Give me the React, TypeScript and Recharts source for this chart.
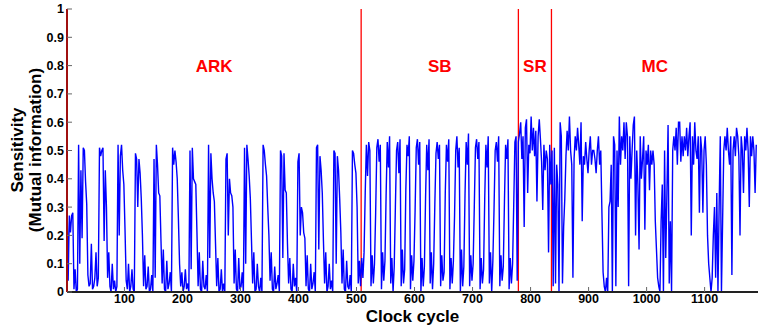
import React from 'react';
import { LineChart, Line, XAxis, YAxis, ReferenceLine, ReferenceDot } from 'recharts';

const FONT = '"Liberation Sans", Arial, Helvetica, sans-serif';

const phaseNames = ['ARK', 'SB', 'SR', 'MC'];
const phaseEdges = [1, 508, 779, 836, 1192];
const xTicks = [100, 200, 300, 400, 500, 600, 700, 800, 900, 1000, 1100];
const yTicks = [0, 0.1, 0.2, 0.3, 0.4, 0.5, 0.6, 0.7, 0.8, 0.9, 1];

// sensitivity (mutual information) x100, one sample every 2 clock cycles from cycle 1
const cycleStep = 2;

const arkValues = [
  33, 4, 27, 21, 27, 28, 1, 8, 0, 1,
  52, 10, 43, 19, 51, 50, 39, 31, 6, 2, 3, 17, 1, 2, 5, 14, 2, 5,
  51, 48, 50, 51, 18, 43, 30, 5, 14, 2, 0, 10, 1, 4, 0, 2,
  52, 20, 48, 52, 43, 38, 22, 4, 1, 10, 0, 2, 8, 1, 0,
  49, 47, 30, 47, 42, 33, 20, 2, 13, 1, 2, 9, 0, 1, 6, 0,
  47, 5, 52, 45, 35, 34, 18, 3, 15, 1, 0, 11, 1, 3, 7, 0,
  51, 45, 50, 46, 40, 26, 10, 2, 7, 0, 2, 8, 1, 3, 0,
  50, 8, 51, 40, 39, 38, 21, 2, 14, 1, 0, 11, 2, 1, 6, 0,
  52, 12, 49, 40, 35, 32, 17, 2, 12, 0, 1, 8, 0, 3, 0,
  47, 49, 20, 40, 35, 34, 30, 3, 15, 1, 0, 12, 1, 2, 7, 0,
  51, 10, 52, 47, 41, 33, 18, 3, 14, 0, 1, 10, 2, 0, 5, 0,
  52, 50, 45, 41, 30, 20, 4, 14, 1, 0, 9, 1, 3, 6, 0,
  50, 48, 12, 49, 36, 35, 17, 3, 12, 1, 0, 10, 2, 5, 0,
  46, 49, 20, 30, 28, 21, 19, 2, 13, 1, 0, 10, 1, 3, 7, 0,
  51, 52, 15, 48, 43, 35, 18, 3, 14, 0, 2, 10, 1, 4, 0,
  50, 49, 10, 48, 43, 33, 21, 3, 15, 1, 0, 11, 2, 1, 6, 0,
  50, 49, 45, 42, 30, 3, 11, 2,
];

const sbValues = [
  12, 5, 14, 35,
  52, 41, 53, 50, 2, 13, 3, 10,
  28, 51, 54, 46, 52, 1, 14, 4, 11,
  34, 53, 44, 55, 3, 12, 0, 9,
  30, 50, 53, 42, 54, 2, 15, 3, 8,
  36, 52, 48, 55, 1, 13, 4, 11,
  29, 51, 54, 45, 53, 0, 12, 2, 9,
  33, 52, 43, 54, 3, 14, 1, 10,
  31, 49, 53, 47, 52, 2, 13, 4, 7,
  35, 52, 46, 54, 1, 12, 3, 11,
  27, 50, 55, 44, 51, 0, 15, 2, 9,
  34, 53, 45, 56, 2, 13, 4, 10,
  30, 51, 54, 47, 53, 1, 12, 3, 8,
  33, 52, 44, 55, 3, 14, 0, 11,
  29, 50, 53, 46, 55, 2, 13, 4, 9,
  32, 52, 47, 54, 1, 12, 3, 10,
  31, 53, 55, 4,
];

const srValues = [
  53, 56, 60, 47, 55, 23, 58, 61, 35, 52, 49, 62, 50, 58, 48,
  57, 32, 55, 61, 54, 46, 29, 52, 43, 50, 47, 14, 52, 38,
];

const mcValues = [
  50, 2, 51, 3, 45, 38, 0, 60, 55,
  3, 23, 33, 48, 57, 50, 62, 50, 45,
  5, 47, 55, 50, 58, 52, 45, 60, 25,
  48, 45, 53, 47, 42, 50, 55, 45, 50,
  50, 47, 42, 50, 55, 45, 50, 28,
  7, 2, 0, 5, 0, 30, 32, 45, 0,
  55, 52, 2, 50, 30, 62, 45, 55, 50,
  60, 47, 60, 55, 2, 55, 40, 50,
  59, 62, 20, 50, 38, 15, 55, 40, 47,
  55, 22, 50, 45, 52, 36, 50, 45, 50,
  45, 25, 15, 5, 2, 0, 25, 38,
  0, 50, 12, 35, 59, 3, 25, 0, 50,
  55, 50, 58, 45, 60, 60, 46, 55,
  48, 55, 50, 58, 48, 55, 60, 20, 55,
  45, 60, 50, 47, 55, 28, 55, 50, 28,
  50, 55, 45, 20, 10, 5, 0, 5,
  20, 30, 5, 35, 0, 30, 55, 0, 25,
  50, 55, 50, 58, 50, 45, 55, 6,
  50, 55, 48, 58, 55, 48, 20, 55, 50,
  35, 55, 50, 58, 50, 30, 55, 48, 55,
  50, 35, 52,
];

const sensitivity = [...arkValues, ...sbValues, ...srValues, ...mcValues];
const chartData = sensitivity.map((v, i) => ({ cycle: 1 + i * cycleStep, mi: v / 100 }));

const xDomain = [phaseEdges[0], phaseEdges[phaseEdges.length - 1]];
const tickStyle = { fontSize: 12.5, fontWeight: 'bold', fill: '#000', fontFamily: FONT };
const fmtY = (v: number) => (v === 0 || v === 1 ? String(v) : v.toFixed(1));
const blank = () => '';

export default function App() {
  return (
    <div style={{ position: 'absolute', left: 0, top: 0, width: 760, height: 325, background: '#fff', fontFamily: FONT }}>
      <LineChart width={760} height={325} data={chartData} margin={{ top: 9, right: 2, bottom: 0, left: 0 }}>
        <XAxis
          dataKey="cycle"
          type="number"
          domain={xDomain}
          allowDataOverflow
          ticks={xTicks}
          height={33}
          axisLine={{ stroke: '#222', strokeWidth: 2 }}
          tickLine={{ stroke: '#666' }}
          tickSize={-5}
          tickMargin={7}
          tick={tickStyle}
        />
        <XAxis
          xAxisId="top"
          orientation="top"
          dataKey="cycle"
          type="number"
          domain={xDomain}
          allowDataOverflow
          ticks={xTicks}
          height={0}
          axisLine={{ stroke: '#222', strokeWidth: 2 }}
          tickLine={{ stroke: '#666' }}
          tickSize={-5}
          tickFormatter={blank}
        />
        <YAxis
          type="number"
          domain={[0, 1]}
          allowDataOverflow
          ticks={yTicks}
          width={67}
          axisLine={{ stroke: '#a01010', strokeWidth: 2 }}
          tickLine={{ stroke: '#666' }}
          tickSize={-5}
          tickMargin={8}
          tick={tickStyle}
          tickFormatter={fmtY}
        />
        <YAxis
          yAxisId="right"
          orientation="right"
          type="number"
          domain={[0, 1]}
          allowDataOverflow
          ticks={yTicks}
          width={0}
          axisLine={{ stroke: '#e0301e', strokeWidth: 2 }}
          tickLine={{ stroke: '#666' }}
          tickSize={-5}
          tickFormatter={blank}
        />
        {phaseEdges.slice(1, -1).map((c) => (
          <ReferenceLine key={c} x={c} stroke="#ff0000" strokeWidth={1.3} />
        ))}
        <Line
          type="linear"
          dataKey="mi"
          stroke="#0000ff"
          strokeWidth={1.4}
          dot={false}
          isAnimationActive={false}
        />
        {phaseNames.map((name, i) => (
          <ReferenceDot
            key={name}
            x={(phaseEdges[i] + phaseEdges[i + 1]) / 2}
            y={0.8}
            r={0}
            stroke="none"
            fill="none"
            label={{ value: name, position: 'center', fill: '#ff0000', fontSize: 17, fontWeight: 'bold', fontFamily: FONT }}
          />
        ))}
      </LineChart>
      <svg width={760} height={325} style={{ position: 'absolute', left: 0, top: 0, pointerEvents: 'none' }}>
        <g fontFamily={FONT} fontWeight="bold" fontSize={17} fill="#000" textAnchor="middle">
          <text transform="translate(23,150) rotate(-90)">Sensitivity</text>
          <text transform="translate(41,150) rotate(-90)">(Mutual information)</text>
          <text x={412.5} y={322}>Clock cycle</text>
        </g>
      </svg>
    </div>
  );
}
